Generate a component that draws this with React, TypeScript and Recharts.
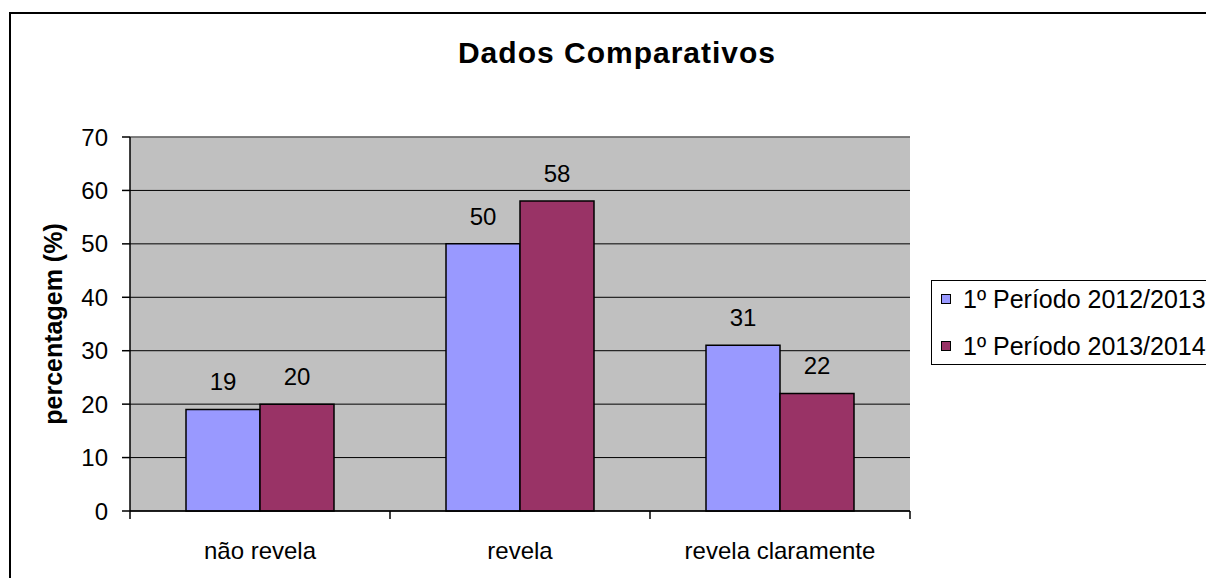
import React from "react";
import {
  BarChart,
  Bar,
  CartesianGrid,
  XAxis,
  YAxis,
  LabelList,
  ReferenceLine,
} from "recharts";

const categories = ["não revela", "revela", "revela claramente"];
const periodo2012 = [19, 50, 31];
const periodo2013 = [20, 58, 22];
const yTicks = [0, 10, 20, 30, 40, 50, 60, 70];

const seriesDefs = [
  { key: "p2012", name: "1º Período 2012/2013", color: "#9999FF" },
  { key: "p2013", name: "1º Período 2013/2014", color: "#993366" },
];

const data = categories.map((c, i) => ({
  categoria: c,
  p2012: periodo2012[i],
  p2013: periodo2013[i],
}));

const FONT = "'Liberation Sans', Arial, sans-serif";
const X_TICK_MARGIN = 31;

// category label plus tick marks on the band boundaries (Excel style)
const CategoryTick = (props: any) => {
  const { x, y, payload } = props;
  const half = payload.offset || 0;
  const axisY = y - X_TICK_MARGIN;
  const isLast = payload.index === categories.length - 1;
  return (
    <g>
      <line x1={x - half} x2={x - half} y1={axisY} y2={axisY + 8} stroke="#000" strokeWidth={1.5} />
      {isLast && (
        <line x1={x + half} x2={x + half} y1={axisY} y2={axisY + 8} stroke="#000" strokeWidth={1.5} />
      )}
      <text x={x} y={y} dy="0.71em" textAnchor="middle" fill="#000" fontSize={24}>
        {payload.value}
      </text>
    </g>
  );
};

const App = () => {
  return (
    <div
      style={{
        position: "relative",
        width: 1214,
        height: 586,
        margin: -8,
        overflow: "hidden",
        background: "#fff",
        fontFamily: FONT,
      }}
    >
      {/* outer frame */}
      <div
        style={{
          position: "absolute",
          left: 9,
          top: 12,
          width: 1300,
          height: 700,
          border: "2px solid #000",
        }}
      />
      <div
        style={{
          position: "absolute",
          left: 417,
          top: 38,
          width: 400,
          textAlign: "center",
          fontSize: 30,
          lineHeight: "30px",
          fontWeight: "bold",
          letterSpacing: 1,
        }}
      >
        Dados Comparativos
      </div>
      <div style={{ position: "absolute", left: 0, top: 0 }}>
        <BarChart
          width={1214}
          height={586}
          data={data}
          margin={{ top: 137, right: 304, left: 10, bottom: 15 }}
          barCategoryGap={56}
          barGap={0}
        >
          <CartesianGrid vertical={false} stroke="#000" fill="#C0C0C0" />
          <XAxis
            xAxisId="edges"
            type="number"
            domain={[0, 3]}
            hide
          />
          <XAxis
            dataKey="categoria"
            height={60}
            axisLine={{ stroke: "#000", strokeWidth: 1.5 }}
            tickLine={false}
            tickSize={0}
            tickMargin={X_TICK_MARGIN}
            tick={CategoryTick}
            interval={0}
          />
          <YAxis
            width={120}
            domain={[0, 70]}
            ticks={yTicks}
            axisLine={{ stroke: "#000", strokeWidth: 1.5 }}
            tickLine={{ stroke: "#000", strokeWidth: 1.5 }}
            tickSize={8}
            tickMargin={14}
            tick={{ fill: "#000", fontSize: 24 }}
            label={{
              value: "percentagem (%)",
              angle: -90,
              position: "insideLeft",
              offset: 43,
              fill: "#000",
              fontSize: 25,
              fontWeight: "bold",
              style: { textAnchor: "middle" },
            }}
          />
          <ReferenceLine y={70} stroke="#808080" strokeWidth={1.5} />
          <ReferenceLine xAxisId="edges" x={3} stroke="#808080" strokeWidth={1.5} />
          {seriesDefs.map((s) => (
            <Bar
              key={s.key}
              dataKey={s.key}
              name={s.name}
              fill={s.color}
              stroke="#000"
              strokeWidth={1.5}
              isAnimationActive={false}
            >
              <LabelList
                dataKey={s.key}
                position="top"
                offset={19}
                fill="#000"
                fontSize={24}
              />
            </Bar>
          ))}
        </BarChart>
      </div>
      {/* legend */}
      <div
        style={{
          position: "absolute",
          left: 931,
          top: 280,
          width: 280,
          height: 83,
          border: "1.5px solid #000",
          background: "#fff",
        }}
      >
        {seriesDefs.map((s, i) => (
          <div
            key={s.key}
            style={{
              position: "absolute",
              left: 9,
              top: 3 + i * 47,
              height: 30,
              display: "flex",
              alignItems: "center",
              fontSize: 25,
              whiteSpace: "nowrap",
            }}
          >
            <span
              style={{
                display: "inline-block",
                width: 8,
                height: 8,
                background: s.color,
                border: "1px solid #000",
                marginRight: 12,
              }}
            />
            {s.name}
          </div>
        ))}
      </div>
    </div>
  );
};

export default App;
